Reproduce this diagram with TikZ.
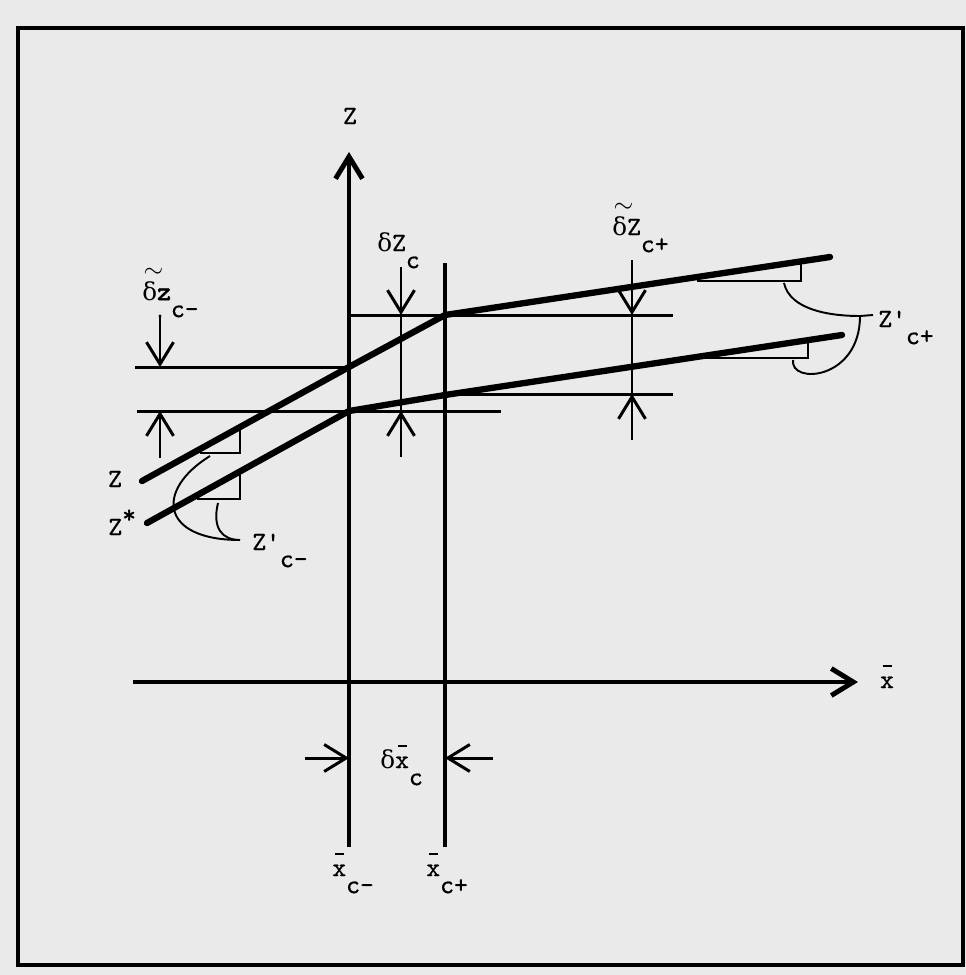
\documentclass[tikz,border=0pt]{standalone}
\usepackage{fontspec}
\setmonofont{lmmono10-regular.otf}[FakeBold=0.8]
\newfontfamily\bz{lmmono10-regular.otf}[FakeBold=2.5]
\newfontfamily\grk{DejaVu Serif}
\usetikzlibrary{arrows.meta}
\definecolor{paper}{RGB}{234,234,234}
\newcommand{\dl}{{\grk\fontsize{14}{15}\selectfont δ}}
\newcommand{\tdelta}{\leavevmode\rlap{\hspace{0.05em}\raisebox{0.85em}{$\sim$}}\dl}
\newcommand{\xbr}{\leavevmode\rlap{\hspace{0.1em}\rule[0.8em]{0.34em}{0.09em}}x}
\newcommand{\lowr}[1]{\raisebox{-0.65em}{#1}}
\newcommand{\prm}{\char"0027}

\begin{document}
\begin{tikzpicture}[x=0.02cm, y=-0.02cm,
    every node/.style={font=\ttfamily\fontsize{15}{17}\selectfont, inner sep=0pt},
    axisline/.style={line width=2.8pt},
    curveline/.style={line width=3.6pt, line cap=round},
    thinline/.style={line width=1.7pt},
    bracket/.style={line width=1.1pt},
    barb/.style={-{Straight Barb[length=4.4mm, width=5.4mm]}}]
        \fill[paper] (0,0) rectangle (966,975);
        \draw[line width=2pt] (18,28) rectangle (963,965);
        \coordinate (zbot) at (349,847);
        \coordinate (ztop) at (349,152);
        \coordinate (xl) at (133,682);
        \coordinate (xr) at (858,682);
        \coordinate (cm) at (445,847);
        \coordinate (cmtop) at (445,263);
        \coordinate (uA) at (142,481);
        \coordinate (uB) at (349,367);
        \coordinate (uK) at (445,315);
        \coordinate (uE) at (830,257);
        \coordinate (lA) at (147,523);
        \coordinate (lB) at (349,411);
        \coordinate (lK) at (445,395);
        \coordinate (lE) at (842,335);
        \draw[axisline, barb] (zbot) -- (ztop);
        \draw[axisline, barb] (xl) -- (xr);
        \draw[line width=2pt] (cm) -- (cmtop);
        \draw[thinline] (135,367) -- (uB);
        \draw[thinline] (137,411) -- (501,411);
        \draw[thinline] (uB |- uK) -- (673,315);
        \draw[thinline] (lK |- 0,394) -- (673,394);
        \draw[bracket] (200,453) -- (240,453) -- (240,428);
        \draw[bracket] (197,499) -- (240,499) -- (240,475);
        \draw[bracket] (697,281) -- (801,281) -- (801,263);
        \draw[bracket] (697,358) -- (808,358) -- (808,341);
        \draw[curveline] (uA) -- (uB) -- (uK) -- (uE);
        \draw[curveline] (lA) -- (lB) -- (lK) -- (lE);
        \draw[thinline] (401,267) -- (401,457);
        \draw[thinline, barb] (401,267) -- (401,315);
        \draw[thinline, barb] (401,457) -- (401,411);
        \draw[thinline] (632,260) -- (632,440);
        \draw[thinline, barb] (632,260) -- (632,315);
        \draw[thinline, barb] (632,440) -- (632,394);
        \fill (160,316) circle (1.6);
        \draw[thinline, barb] (160,316) -- (160,367);
        \draw[thinline, barb] (160,458) -- (160,411);
        \draw[thinline, barb] (305,758) -- (zbot |- 0,758);
        \draw[thinline, barb] (493,758) -- (cm |- 0,758);
        \coordinate (bl) at (240,540);
        \draw[bracket] (210,456) .. controls (155,490) and (160,540) .. (bl);
        \draw[bracket] (218,503) .. controls (212,528) and (222,540) .. (bl);
        \coordinate (br) at (860,316);
        \draw[bracket] (784,283) .. controls (790,310) and (830,316) .. (br) -- (873,315);
        \draw[bracket] (793,360) .. controls (790,385) and (860,380) .. (br);
        \node[anchor=base] (zlab) at (350,124) {Z};
        \node[anchor=base] (xlab) at (887,688) {\xbr};
        \node[anchor=base west] (dzc) at (377,251) {\dl Z\lowr{c}};
        \node[anchor=base west] (dzm) at (142,300) {\tdelta{\bz z}\lowr{c-}};
        \node[anchor=base west] (dzp) at (612,235) {\tdelta Z\lowr{c+}};
        \node[anchor=base] (zl) at (115,487) {Z};
        \node[anchor=base west] (zs) at (108,535) {Z\raisebox{0.45em}{*}};
        \node[anchor=base west] (zpm) at (252,550) {Z\prm\lowr{c-}};
        \node[anchor=base west] (zpp) at (878,327) {Z\prm\lowr{c+}};
        \node[anchor=base west] (dxc) at (380,768) {\dl\xbr\lowr{c}};
        \node[anchor=base west] (xcm) at (332,876) {\xbr\lowr{c-}};
        \node[anchor=base west] (xcp) at (426,876) {\xbr\lowr{c+}};
\end{tikzpicture}
\end{document}
